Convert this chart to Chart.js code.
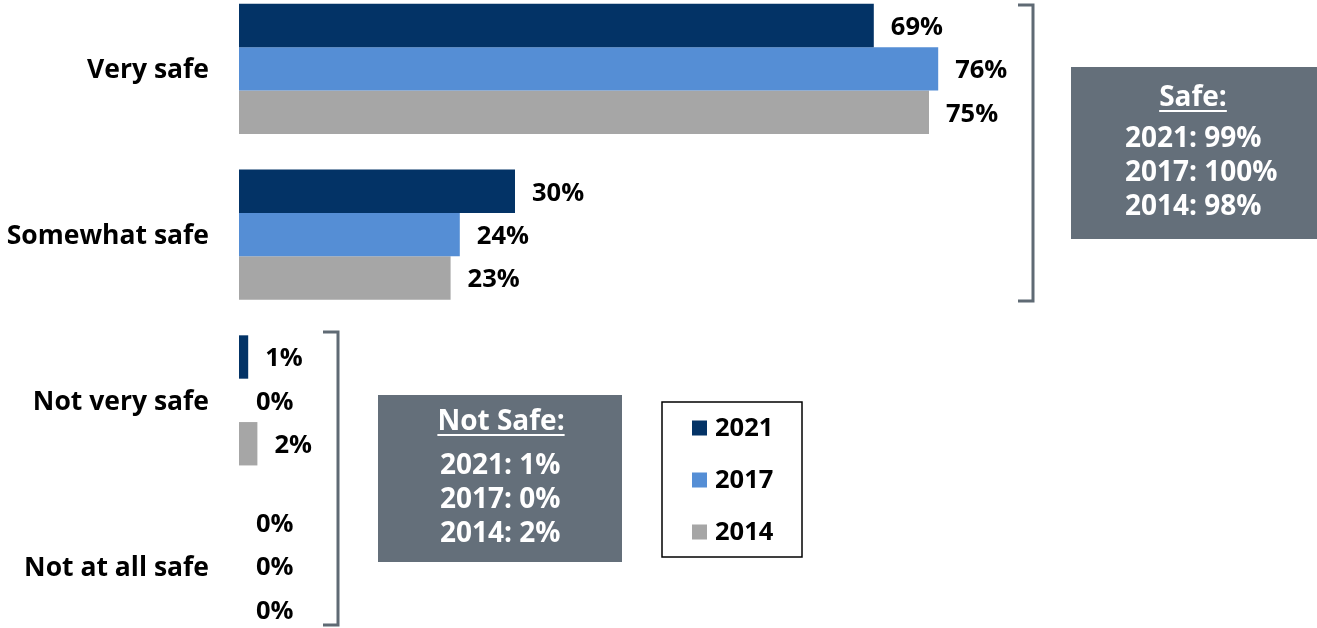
<!DOCTYPE html>
<html>
<head>
<meta charset="utf-8">
<script src="https://cdn.jsdelivr.net/npm/chart.js@4/dist/chart.umd.min.js"></script>
<style>
html,body{margin:0;padding:0;width:1317px;height:628px;overflow:hidden;background:#fff;}
#wrap{position:absolute;left:0;top:-29px;width:1317px;height:693px;}
</style>
</head>
<body>
<div id="wrap"><canvas id="c"></canvas></div>
<script>
const categories = ['Very safe', 'Somewhat safe', 'Not very safe', 'Not at all safe'];
const seriesNames = ['2021', '2017', '2014'];
const values2021 = [69, 30, 1, 0];
const values2017 = [76, 24, 0, 0];
const values2014 = [75, 23, 2, 0];
const safeLines = ['2021: 99%', '2017: 100%', '2014: 98%'];
const notSafeLines = ['2021: 1%', '2017: 0%', '2014: 2%'];
const colors = ['#033366', '#558ED5', '#A6A6A6'];

const FONT_FAMILY = '"Open Sans", "Noto Sans", sans-serif';
const FS_AXIS = 26.5; // category labels
const FS = 25.5;      // value labels, legend
const FS_BOX = 28;    // info boxes
const OFF = 29;       // page y -> canvas y
const BOX = '#646F7A';
const BRACKET = '#5F6A74';

const valueLabels = {
  id: 'valueLabels',
  afterDatasetsDraw(chart) {
    const ctx = chart.ctx;
    ctx.save();
    ctx.font = `bold ${FS}px ${FONT_FAMILY}`;
    ctx.fillStyle = '#000';
    ctx.textAlign = 'left';
    ctx.textBaseline = 'middle';
    chart.data.datasets.forEach((ds, i) => {
      chart.getDatasetMeta(i).data.forEach((bar, j) => {
        ctx.fillText(ds.data[j] + '%', bar.x + 17, bar.y + 2);
      });
    });
    ctx.restore();
  }
};

function bracket(ctx, x, y1, y2, tick) {
  ctx.beginPath();
  ctx.moveTo(x - tick, y1);
  ctx.lineTo(x, y1);
  ctx.lineTo(x, y2);
  ctx.lineTo(x - tick, y2);
  ctx.stroke();
}

function infoBox(ctx, x, y, w, h, title, titleCx, titleCy, lines, lineX, lineY0, lineStep) {
  ctx.fillStyle = BOX;
  ctx.fillRect(x, y + OFF, w, h);
  ctx.fillStyle = '#fff';
  ctx.font = `bold ${FS_BOX}px ${FONT_FAMILY}`;
  ctx.textBaseline = 'middle';
  ctx.textAlign = 'center';
  ctx.fillText(title, titleCx, titleCy + OFF);
  const tw = ctx.measureText(title).width;
  ctx.fillRect(titleCx - tw / 2, titleCy + 12 + OFF, tw, 2);
  ctx.textAlign = 'left';
  lines.forEach((t, k) => ctx.fillText(t, lineX, lineY0 + k * lineStep + OFF));
}

const annotations = {
  id: 'annotations',
  afterDraw(chart) {
    const ctx = chart.ctx;
    ctx.save();
    ctx.strokeStyle = BRACKET;
    ctx.lineWidth = 3;
    ctx.lineJoin = 'miter';
    bracket(ctx, 1033, 5 + OFF, 301 + OFF, 15);
    bracket(ctx, 338, 332 + OFF, 625 + OFF, 15);

    infoBox(ctx, 1071, 67, 246, 172, 'Safe:', 1193, 98, safeLines, 1125, 139, 34);
    infoBox(ctx, 378, 395, 244, 167, 'Not Safe:', 501, 422, notSafeLines, 440, 466, 34);

    // legend
    ctx.fillStyle = '#fff';
    ctx.fillRect(662, 402 + OFF, 140, 155);
    ctx.strokeStyle = '#000';
    ctx.lineWidth = 1.5;
    ctx.strokeRect(662, 402 + OFF, 140, 155);
    ctx.font = `bold ${FS}px ${FONT_FAMILY}`;
    ctx.textAlign = 'left';
    ctx.textBaseline = 'middle';
    chart.data.datasets.forEach((ds, i) => {
      const cy = 428 + i * 52 + OFF;
      ctx.fillStyle = ds.backgroundColor;
      ctx.fillRect(692, cy - 7.5, 15, 15);
      ctx.fillStyle = '#000';
      ctx.fillText(ds.label, 715, cy + 1);
    });
    ctx.restore();
  }
};

new Chart(document.getElementById('c'), {
  type: 'bar',
  data: {
    labels: categories,
    datasets: [
      { label: seriesNames[0], data: values2021, backgroundColor: colors[0] },
      { label: seriesNames[1], data: values2017, backgroundColor: colors[1] },
      { label: seriesNames[2], data: values2014, backgroundColor: colors[2] }
    ]
  },
  options: {
    indexAxis: 'y',
    responsive: true,
    maintainAspectRatio: false,
    animation: false,
    layout: { padding: { left: 0, right: 158, top: 0, bottom: 0 } },
    datasets: { bar: { categoryPercentage: 0.785, barPercentage: 1.0, borderWidth: 0 } },
    plugins: { legend: { display: false }, tooltip: { enabled: false } },
    scales: {
      x: { display: false, min: 0, max: 100 },
      y: {
        grid: { display: false, drawTicks: true, tickLength: 30 },
        border: { display: false },
        ticks: { padding: 0, labelOffset: 2, color: '#000', font: { family: FONT_FAMILY, size: FS_AXIS, weight: 'bold', lineHeight: '30px' } },
        afterFit(scale) { scale.width = 239; }
      }
    }
  },
  plugins: [valueLabels, annotations]
});
</script>
</body>
</html>
